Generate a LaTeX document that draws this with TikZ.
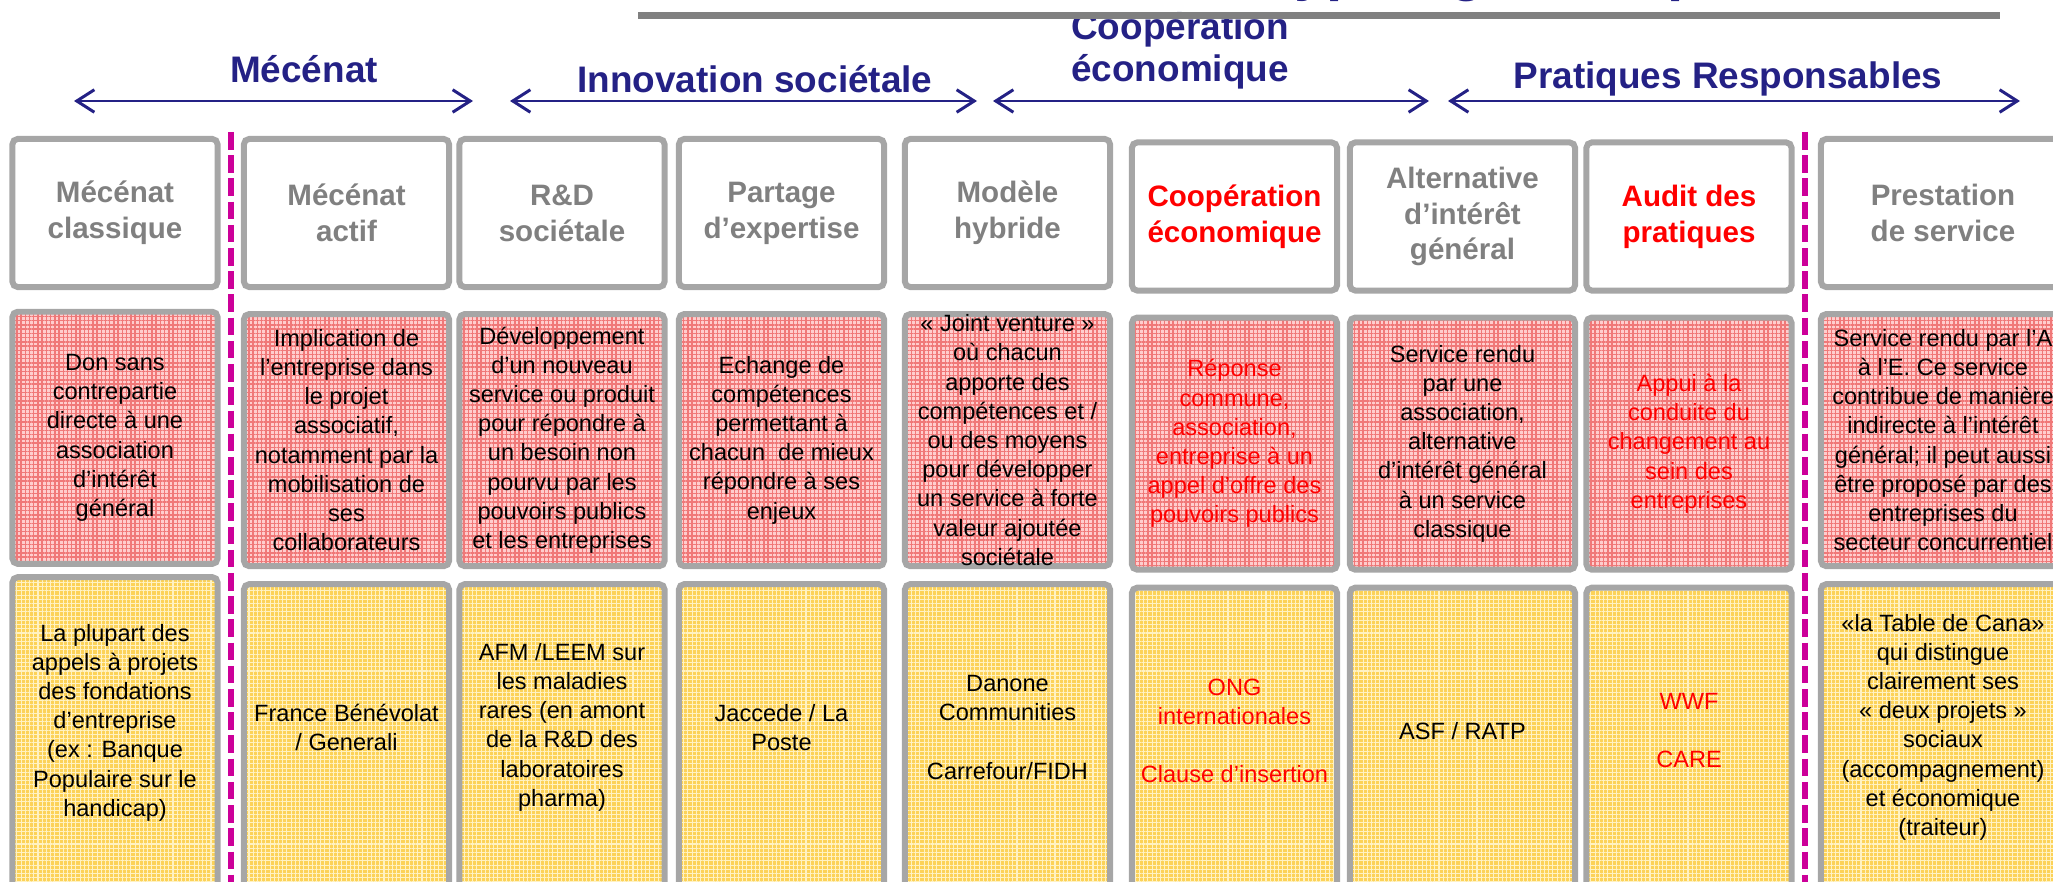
\documentclass[tikz,border=0pt]{standalone}
\usepackage{fontspec}
\setmainfont{Liberation Sans}
\usepackage{tikz}
\usetikzlibrary{arrows.meta,
  positioning,
  patterns.meta}

\definecolor{navy}{RGB}{36,33,133}
\definecolor{boxgray}{RGB}{166,166,166}
\definecolor{headgray}{RGB}{128,128,128}
\definecolor{rulegray}{RGB}{128,128,128}
\definecolor{sepmagenta}{RGB}{204,0,153}
\definecolor{pinkbase}{RGB}{255,205,205}
\definecolor{pinkline}{RGB}{240,120,120}
\definecolor{yellowbase}{RGB}{252,210,88}
\definecolor{yellowline}{RGB}{255,242,195}

\begin{document}
\begin{tikzpicture}[x=0.01cm,y=-0.01cm]
    % Define styles for boxes and texts
    \tikzstyle{headbox} = [rectangle, rounded corners=1.5pt, minimum width=2.05cm, minimum height=1.48cm, align=center, draw=boxgray, line width=1.7pt, fill=white, text=headgray, font=\fontsize{8.4pt}{10.2pt}\selectfont\bfseries]
    \tikzstyle{descbox} = [rectangle, rounded corners=1.5pt, minimum width=2.05cm, minimum height=2.52cm, draw=boxgray, line width=1.7pt, preaction={fill=pinkbase}, pattern={Hatch[angle=0,distance=1.2pt,line width=0.4pt]}, pattern color=pinkline]
    \tikzstyle{exbox} = [rectangle, rounded corners=1.5pt, minimum width=2.05cm, minimum height=3.5cm, draw=boxgray, line width=1.7pt, preaction={fill=yellowbase}, pattern={Hatch[angle=0,distance=1.2pt,line width=0.3pt]}, pattern color=yellowline]
    \tikzstyle{bodytext} = [align=center, inner sep=0pt, font=\fontsize{6.7pt}{8.3pt}\selectfont]
    \tikzstyle{cat} = [align=center, inner sep=0pt, text=navy, font=\fontsize{10.5pt}{12.2pt}\selectfont\bfseries]
    % Arrows between the families, and the dashed separators
    \tikzset{catArrow/.style={<->, >={Straight Barb[length=5pt,width=6.4pt]},
        line width=0.85pt, draw=navy
    }}
    \tikzset{sepLine/.style={draw=sepmagenta, line width=1.7pt, dash pattern=on 5pt off 1.6pt}}

    \useasboundingbox (0,0) rectangle (2053,882);

    % Title (cut by the page)
    \node[anchor=base west, inner sep=0pt, text=navy, font=\fontsize{16.6pt}{20pt}\selectfont\bfseries] (title) at (1262,-10) {Typologie des partenariats};

    % Families
    \coordinate (mecL) at (74,101);
    \coordinate (mecR) at (473,101);
    \coordinate (innL) at (510,101);
    \coordinate (innR) at (977,101);
    \coordinate (coopL) at (993,101);
    \coordinate (coopR) at (1429,101);
    \coordinate (praL) at (1448,101);
    \coordinate (praR) at (2020,101);
    \draw [catArrow] (mecL) -- (mecR);
    \draw [catArrow] (innL) -- (innR);
    \draw [catArrow] (coopL) -- (coopR);
    \draw [catArrow] (praL) -- (praR);
    \node[cat, anchor=base] (mecLabel) at (304,83) {Mécénat};
    \node[cat, anchor=base] (innLabel) at (755,93) {Innovation sociétale};
    \node[cat, anchor=base] (coopLabel) at (1180,82) {Coopération\\économique};
    \node[cat, anchor=base] (praLabel) at (1728,89) {Pratiques Responsables};

    % Rule over the families
    \coordinate (ruleL) at (638,15.5);
    \coordinate (ruleR) at (2000,15.5);
    \draw [rulegray, line width=2pt] (ruleL) -- (ruleR);

    % Header boxes
    \node[headbox] (head1) at (115,213) {Mécénat\\classique};
    \node[headbox] (head2) at (346.5,213) {Mécénat\\actif};
    \node[headbox] (head3) at (562,213) {R\&D\\sociétale};
    \node[headbox] (head4) at (781.5,213) {Partage\\d’expertise};
    \node[headbox] (head5) at (1007.5,213) {Modèle\\hybride};
    \node[headbox, text=red] (head6) at (1234.5,216.5) {Coopération\\économique};
    \node[headbox, minimum width=2.25cm] (head7) at (1462.5,216.5) {Alternative\\d’intérêt\\général};
    \node[headbox, text=red] (head8) at (1689,216.5) {Audit des\\pratiques};
    \node[headbox, minimum width=2.44cm] (head9) at (1943,213) {Prestation\\de service};

    % Description boxes
    \node[descbox] (desc1) [below=0.21cm of head1] {};
    \node[descbox] (desc2) [below=0.21cm of head2] {};
    \node[descbox] (desc3) [below=0.21cm of head3] {};
    \node[descbox] (desc4) [below=0.21cm of head4] {};
    \node[descbox] (desc5) [below=0.21cm of head5] {};
    \node[descbox] (desc6) [below=0.21cm of head6] {};
    \node[descbox, minimum width=2.25cm] (desc7) [below=0.21cm of head7] {};
    \node[descbox] (desc8) [below=0.21cm of head8] {};
    \node[descbox, minimum width=2.44cm] (desc9) [below=0.21cm of head9] {};
    \node[bodytext] (desc1txt) at (desc1) {Don sans\\contrepartie\\directe à une\\association\\d’intérêt\\général};
    \node[bodytext] (desc2txt) at (desc2) {Implication de\\l’entreprise dans\\le projet\\associatif,\\notamment par la\\mobilisation de\\ses\\collaborateurs};
    \node[bodytext] (desc3txt) at (desc3) {Développement\\d’un nouveau\\service ou produit\\pour répondre à\\un besoin non\\pourvu par les\\pouvoirs publics\\et les entreprises};
    \node[bodytext] (desc4txt) at (desc4) {Echange de\\compétences\\permettant à\\chacun\ \ de mieux\\répondre à ses\\enjeux};
    \node[bodytext] (desc5txt) at (desc5) {« Joint venture »\\où chacun\\apporte des\\compétences et /\\ou des moyens\\pour développer\\un service à forte\\valeur ajoutée\\sociétale};
    \node[bodytext, text=red] (desc6txt) at (desc6) {Réponse\\commune,\\association,\\entreprise à un\\appel d’offre des\\pouvoirs publics};
    \node[bodytext] (desc7txt) at (desc7) {Service rendu\\par une\\association,\\alternative\\d’intérêt général\\à un service\\classique};
    \node[bodytext, text=red] (desc8txt) at (desc8) {Appui à la\\conduite du\\changement au\\sein des\\entreprises};
    \node[bodytext] (desc9txt) at (desc9) {Service rendu par l’A\\à l’E. Ce service\\contribue de manière\\indirecte à l’intérêt\\général; il peut aussi\\être proposé par des\\entreprises du\\secteur concurrentiel};

    % Example boxes
    \node[exbox] (ex1) [below=0.12cm of desc1] {};
    \node[exbox] (ex2) [below=0.12cm of desc2] {};
    \node[exbox] (ex3) [below=0.12cm of desc3] {};
    \node[exbox] (ex4) [below=0.12cm of desc4] {};
    \node[exbox] (ex5) [below=0.12cm of desc5] {};
    \node[exbox] (ex6) [below=0.12cm of desc6] {};
    \node[exbox, minimum width=2.25cm] (ex7) [below=0.12cm of desc7] {};
    \node[exbox] (ex8) [below=0.12cm of desc8] {};
    \node[exbox, minimum width=2.44cm] (ex9) [below=0.12cm of desc9] {};
    \node[bodytext] (ex1txt) at ([yshift=-1.46cm]ex1.north) {La plupart des\\appels à projets\\des fondations\\d’entreprise\\(ex : Banque\\Populaire sur le\\handicap)};
    \node[bodytext] (ex2txt) at ([yshift=-1.46cm]ex2.north) {France Bénévolat\\/ Generali};
    \node[bodytext] (ex3txt) at ([yshift=-1.46cm]ex3.north) {AFM /LEEM sur\\les maladies\\rares (en amont\\de la R\&D des\\laboratoires\\pharma)};
    \node[bodytext] (ex4txt) at ([yshift=-1.46cm]ex4.north) {Jaccede / La\\Poste};
    \node[bodytext] (ex5txt) at ([yshift=-1.46cm]ex5.north) {Danone\\Communities\\[8.3pt]Carrefour/FIDH};
    \node[bodytext, text=red] (ex6txt) at ([yshift=-1.46cm]ex6.north) {ONG\\internationales\\[8.3pt]Clause d’insertion};
    \node[bodytext] (ex7txt) at ([yshift=-1.46cm]ex7.north) {ASF / RATP};
    \node[bodytext, text=red] (ex8txt) at ([yshift=-1.46cm]ex8.north) {WWF\\[8.3pt]CARE};
    \node[bodytext] (ex9txt) at ([yshift=-1.46cm]ex9.north) {«la Table de Cana»\\qui distingue\\clairement ses\\« deux projets »\\sociaux\\(accompagnement)\\et économique\\(traiteur)};

    % Dashed separators
    \coordinate (sepAtop) at (231,132);
    \coordinate (sepAbot) at (231,900);
    \coordinate (sepBtop) at (1805,132);
    \coordinate (sepBbot) at (1805,900);
    \draw [sepLine] (sepAtop) -- (sepAbot);
    \draw [sepLine] (sepBtop) -- (sepBbot);
\end{tikzpicture}
\end{document}
